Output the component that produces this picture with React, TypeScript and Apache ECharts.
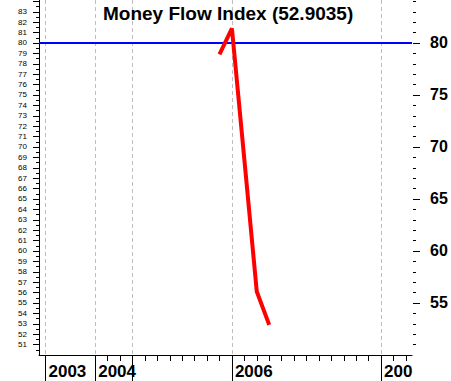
import React, { useEffect, useRef } from "react";
import * as echarts from "echarts";

// x positions are "slots" (one per minor tick on the time axis)
const yearSlots = [0, 4, 7, 15, 27];
const yearTickLabels = ["2003", "2004", "", "2006", "200"];
const minorSlots = [4, 5, 6, 7, 8, 9, 10, 11, 12, 13, 14, 15, 16, 17, 18, 19, 20, 21, 22, 23, 24, 25, 26, 27, 28, 29];

const mfiSlots = [14, 15, 16, 17, 18];
const mfiValues = [78.9, 81.4, 68.8, 56.1, 52.9];
const overboughtLevel = 80;

const leftLabelValues = [51, 52, 53, 54, 55, 56, 57, 58, 59, 60, 61, 62, 63, 64, 65, 66, 67, 68, 69, 70, 71, 72, 73, 74, 75, 76, 77, 78, 79, 80, 81, 82, 83];
const leftTickValues = [...leftLabelValues, 84];
const leftHalfTicks = leftTickValues.map((v) => v - 0.5);
const rightLabelValues = [55, 60, 65, 70, 75, 80];
const rightMinorTicks = leftTickValues.filter((v) => v % 5 !== 0);

const titleText = "Money Flow Index (52.9035)";

export default function App() {
  const ref = useRef<HTMLDivElement>(null);
  useEffect(() => {
    if (!ref.current) return;
    const chart = echarts.init(ref.current, null, { renderer: "svg" });
    const font = "'Liberation Sans', Arial, Helvetica, sans-serif";
    const yMin = 50;
    const yMax = 84.13;
    const xMin = -0.523;
    const xMax = 29.49;
    const hiddenLine = { show: false, onZero: false, lineStyle: { color: "rgba(0,0,0,0)", width: 0 } };
    chart.setOption({
      animation: false,
      backgroundColor: "#ffffff",
      title: {
        text: titleText,
        left: 103,
        top: 4,
        padding: 0,
        textStyle: { fontFamily: font, fontSize: 19, fontWeight: "bold", color: "#000", lineHeight: 19 },
      },
      grid: { left: 39, right: 39, top: 0, bottom: 26, containLabel: false, show: false },
      xAxis: [
        {
          type: "value",
          min: xMin,
          max: xMax,
          position: "bottom",
          axisLine: { show: true, onZero: false, lineStyle: { color: "#000", width: 1 } },
          axisTick: { show: true, length: 26, customValues: yearSlots, lineStyle: { color: "#000", width: 1 } },
          axisLabel: {
            show: true,
            customValues: yearSlots,
            formatter: (v: number) => {
              const i = yearSlots.indexOf(Math.round(v));
              return i >= 0 ? yearTickLabels[i] : "";
            },
            align: "left",
            padding: [0, 0, 0, 3],
            margin: 8,
            fontFamily: font,
            fontSize: 17,
            fontWeight: "bold",
            color: "#000",
          },
          splitLine: { show: true, lineStyle: { color: "#bdbdbd", width: 1, type: [4, 3] } },
        },
        {
          type: "value",
          min: xMin,
          max: xMax,
          position: "bottom",
          axisLine: hiddenLine,
          axisTick: { show: true, length: 6, customValues: minorSlots, lineStyle: { color: "#000", width: 1 } },
          axisLabel: { show: false },
          splitLine: { show: false },
        },
      ],
      yAxis: [
        {
          type: "value",
          min: yMin,
          max: yMax,
          position: "left",
          axisLine: { show: true, onZero: false, lineStyle: { color: "#000", width: 1 } },
          axisTick: { show: true, length: 6, customValues: leftTickValues, lineStyle: { color: "#000" } },
          axisLabel: {
            show: true,
            customValues: leftLabelValues,
            margin: 12,
            fontFamily: font,
            fontSize: 8,
            color: "#000",
          },
          splitLine: { show: false },
        },
        {
          type: "value",
          min: yMin,
          max: yMax,
          position: "left",
          axisLine: hiddenLine,
          axisTick: { show: true, length: 3, customValues: leftHalfTicks, lineStyle: { color: "#000" } },
          axisLabel: { show: false },
          splitLine: { show: false },
        },
        {
          type: "value",
          min: yMin,
          max: yMax,
          position: "right",
          offset: 1,
          axisLine: hiddenLine,
          axisTick: { show: true, length: 3, customValues: rightMinorTicks, lineStyle: { color: "#000" } },
          axisLabel: { show: false },
          splitLine: { show: false },
        },
        {
          type: "value",
          min: yMin,
          max: yMax,
          position: "right",
          offset: 1,
          axisLine: hiddenLine,
          axisTick: { show: true, length: 7, customValues: rightLabelValues, lineStyle: { color: "#000" } },
          axisLabel: {
            show: true,
            customValues: rightLabelValues,
            margin: 17,
            fontFamily: font,
            fontSize: 16,
            fontWeight: "bold",
            color: "#000",
          },
          splitLine: { show: false },
        },
      ],
      series: [
        {
          type: "line",
          xAxisIndex: 0,
          yAxisIndex: 0,
          data: mfiSlots.map((s, i) => [s, mfiValues[i]]),
          showSymbol: false,
          symbol: "none",
          lineStyle: { color: "#ff0000", width: 4 },
          z: 5,
          markLine: {
            silent: true,
            symbol: "none",
            label: { show: false },
            lineStyle: { color: "#0000ff", width: 2, type: "solid" },
            data: [{ yAxis: overboughtLevel }],
            z: 3,
          },
        },
      ],
    });
    return () => chart.dispose();
  }, []);
  return <div ref={ref} style={{ width: 451, height: 381, position: "absolute", left: 0, top: 0 }} />;
}
